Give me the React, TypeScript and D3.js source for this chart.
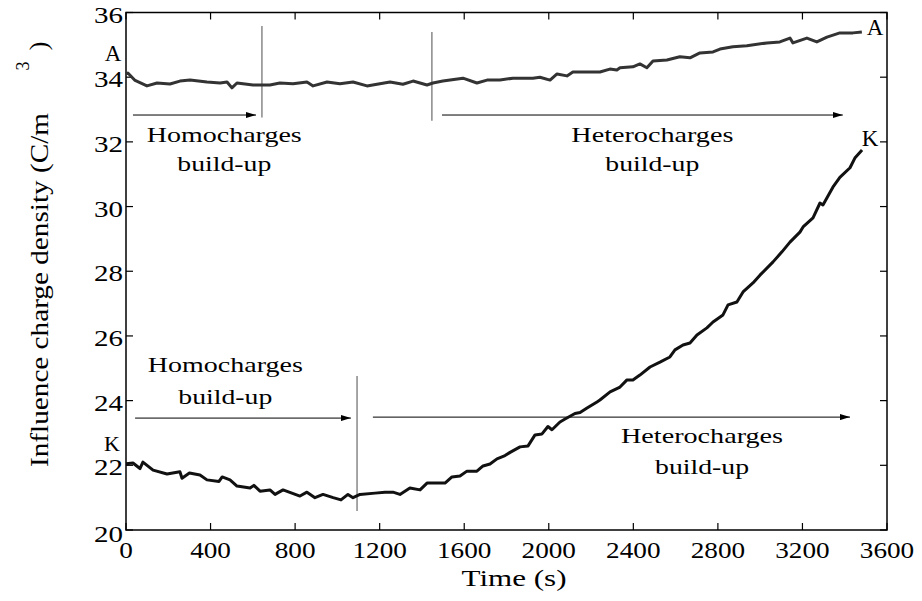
import React from "react";
import * as d3 from "d3";

const xTicks = [0, 400, 800, 1200, 1600, 2000, 2400, 2800, 3200, 3600];
const yTicks = [20, 22, 24, 26, 28, 30, 32, 34, 36];

const timeA = [0, 9, 43, 99, 147, 208, 255, 303, 383, 445, 478, 501, 525, 601, 681, 728, 790, 856, 885, 951, 1012, 1074, 1140, 1201, 1249, 1310, 1358, 1424, 1452, 1499, 1594, 1660, 1708, 1769, 1830, 1925, 1958, 2006, 2039, 2086, 2114, 2195, 2242, 2289, 2322, 2337, 2398, 2431, 2464, 2493, 2559, 2620, 2668, 2715, 2777, 2810, 2871, 2937, 3032, 3093, 3141, 3155, 3221, 3268, 3316, 3377, 3439, 3481];
const valA = [34.1, 34.13, 33.9, 33.73, 33.82, 33.79, 33.88, 33.91, 33.85, 33.82, 33.85, 33.67, 33.82, 33.76, 33.76, 33.82, 33.8, 33.85, 33.73, 33.85, 33.8, 33.85, 33.73, 33.8, 33.85, 33.78, 33.88, 33.76, 33.82, 33.88, 33.97, 33.82, 33.91, 33.91, 33.97, 33.97, 34.0, 33.91, 34.1, 34.04, 34.16, 34.16, 34.16, 34.25, 34.22, 34.29, 34.32, 34.41, 34.29, 34.5, 34.53, 34.63, 34.6, 34.75, 34.78, 34.87, 34.94, 34.97, 35.06, 35.09, 35.21, 35.06, 35.21, 35.09, 35.24, 35.37, 35.37, 35.4];

const timeK = [0, 33, 66, 80, 128, 194, 255, 265, 300, 350, 383, 440, 455, 492, 525, 587, 605, 634, 681, 705, 743, 823, 856, 894, 932, 980, 1017, 1050, 1074, 1107, 1178, 1225, 1263, 1296, 1343, 1391, 1424, 1509, 1542, 1580, 1613, 1660, 1689, 1722, 1755, 1793, 1817, 1864, 1902, 1935, 1968, 1996, 2015, 2053, 2077, 2124, 2148, 2181, 2228, 2242, 2290, 2337, 2370, 2398, 2431, 2479, 2526, 2573, 2597, 2635, 2668, 2701, 2748, 2777, 2824, 2848, 2890, 2919, 2966, 2999, 3061, 3103, 3141, 3188, 3203, 3250, 3283, 3297, 3344, 3377, 3425, 3448, 3482];
const valK = [22.05, 22.07, 21.9, 22.1, 21.85, 21.73, 21.8, 21.6, 21.76, 21.7, 21.55, 21.5, 21.64, 21.55, 21.36, 21.3, 21.38, 21.2, 21.24, 21.1, 21.24, 21.05, 21.17, 21.0, 21.1, 21.0, 20.93, 21.1, 21.0, 21.1, 21.14, 21.17, 21.17, 21.1, 21.3, 21.24, 21.45, 21.45, 21.64, 21.67, 21.82, 21.82, 21.98, 22.04, 22.2, 22.3, 22.4, 22.57, 22.6, 22.94, 22.97, 23.2, 23.1, 23.34, 23.43, 23.6, 23.63, 23.77, 23.96, 24.02, 24.27, 24.42, 24.64, 24.64, 24.79, 25.04, 25.19, 25.35, 25.57, 25.72, 25.78, 26.03, 26.25, 26.43, 26.65, 26.96, 27.05, 27.36, 27.64, 27.88, 28.29, 28.6, 28.9, 29.21, 29.37, 29.65, 30.11, 30.05, 30.6, 30.9, 31.2, 31.5, 31.75];

// separator lines: time, y from, y to
const sepTime = [643, 1447, 1093];
const sepFrom = [35.58, 35.4, 24.76];
const sepTo = [32.75, 32.65, 20.59];

// arrows: start time, end time, value
const arrowStart = [33, 1495, 43, 1168];
const arrowEnd = [615, 3391, 1064, 3425];
const arrowVal = [32.83, 32.83, 23.46, 23.49];

const labelLine1 = ["Homocharges", "Heterocharges", "Homocharges", "Heterocharges"];
const labelLine2 = ["build-up", "build-up", "build-up", "build-up"];
const labelTime = [465, 2490, 470, 2725];
const labelVal1 = [32.0, 32.0, 24.9, 22.7];
const labelVal2 = [31.1, 31.1, 23.9, 21.73];

const FONT = "Liberation Serif, Times New Roman, serif";

export default function App() {
  const left = 126, right = 887, top = 12.5, bottom = 530;
  const x = d3.scaleLinear().domain([0, 3600]).range([left, right]);
  const y = d3.scaleLinear().domain([20, 36]).range([bottom, top]);

  const lineA = d3.line<number>().x((d, i) => x(timeA[i])).y((d) => y(d));
  const lineK = d3.line<number>().x((d, i) => x(timeK[i])).y((d) => y(d));

  const tickLen = 7;

  return (
    <svg width={922} height={601} style={{ position: "absolute", left: 0, top: 0, background: "#fff", fontFamily: FONT }}>
      <defs>
        <marker id="ah" viewBox="0 0 10 6" refX="10" refY="3" markerWidth="10" markerHeight="6" markerUnits="userSpaceOnUse" orient="auto">
          <path d="M0,0 L10,3 L0,6 Z" fill="#000" />
        </marker>
      </defs>
      {/* frame */}
      <rect x={left} y={top} width={right - left} height={bottom - top} fill="none" stroke="#000" strokeWidth={1.5} />
      {xTicks.map((t) => (
        <g key={"xt" + t}>
          <line x1={x(t)} x2={x(t)} y1={bottom} y2={bottom - tickLen} stroke="#000" strokeWidth={1.2} />
          <line x1={x(t)} x2={x(t)} y1={top} y2={top + tickLen} stroke="#000" strokeWidth={1.2} />
          <text x={x(t)} y={558} textAnchor="middle" style={{ fontFamily: FONT }} fontSize={24}
            textLength={String(t).length * 13.6} lengthAdjust="spacingAndGlyphs">{t}</text>
        </g>
      ))}
      {yTicks.map((v) => (
        <g key={"yt" + v}>
          <line x1={left} x2={left + tickLen} y1={y(v)} y2={y(v)} stroke="#000" strokeWidth={1.2} />
          <line x1={right} x2={right - tickLen} y1={y(v)} y2={y(v)} stroke="#000" strokeWidth={1.2} />
          <text x={123} y={y(v) + (v === 20 ? 12 : 10)} textAnchor="end" style={{ fontFamily: FONT }} fontSize={23}
            textLength={29} lengthAdjust="spacingAndGlyphs">{v}</text>
        </g>
      ))}
      <text x={514} y={586} textAnchor="middle" style={{ fontFamily: FONT }} fontSize={24}
        textLength={105} lengthAdjust="spacingAndGlyphs">Time (s)</text>
      <g transform="translate(48,290) rotate(-90)">
        <text x={0} y={0} textAnchor="middle" style={{ fontFamily: FONT }} fontSize={26}
          textLength={354} lengthAdjust="spacingAndGlyphs">Influence charge density (C/m</text>
      </g>
      <g transform="translate(29,66) rotate(-90)">
        <text x={0} y={0} textAnchor="middle" style={{ fontFamily: FONT }} fontSize={18}>3</text>
      </g>
      <g transform="translate(47,46) rotate(-90)">
        <text x={0} y={0} textAnchor="middle" style={{ fontFamily: FONT }} fontSize={26}>)</text>
      </g>

      {/* separators */}
      {sepTime.map((t, i) => (
        <line key={"s" + i} x1={x(t)} x2={x(t)} y1={y(sepFrom[i])} y2={y(sepTo[i])} stroke="#888" strokeWidth={1.5} />
      ))}
      {/* arrows */}
      {arrowStart.map((s, i) => (
        <line key={"a" + i} x1={x(s)} x2={x(arrowEnd[i])} y1={y(arrowVal[i])} y2={y(arrowVal[i])}
          stroke="#000" strokeWidth={1} markerEnd="url(#ah)" />
      ))}
      {/* labels */}
      {labelLine1.map((l, i) => (
        <g key={"l" + i}>
          <text x={x(labelTime[i])} y={y(labelVal1[i])} textAnchor="middle" style={{ fontFamily: FONT }} fontSize={22}
            textLength={l === "Homocharges" ? 155 : 162} lengthAdjust="spacingAndGlyphs">{l}</text>
          <text x={x(labelTime[i])} y={y(labelVal2[i])} textAnchor="middle" style={{ fontFamily: FONT }} fontSize={22}
            textLength={94} lengthAdjust="spacingAndGlyphs">{labelLine2[i]}</text>
        </g>
      ))}

      {/* curves */}
      <path d={lineA(valA) || ""} fill="none" stroke="#333" strokeWidth={3} strokeLinejoin="round" />
      <path d={lineK(valK) || ""} fill="none" stroke="#111" strokeWidth={3} strokeLinejoin="round" />

      {/* curve labels */}
      <text x={113} y={61} textAnchor="middle" style={{ fontFamily: FONT }} fontSize={23}>A</text>
      <text x={875} y={35} textAnchor="middle" style={{ fontFamily: FONT }} fontSize={23}>A</text>
      <text x={112} y={451} textAnchor="middle" style={{ fontFamily: FONT }} fontSize={22}>K</text>
      <text x={870} y={146} textAnchor="middle" style={{ fontFamily: FONT }} fontSize={23}>K</text>
    </svg>
  );
}
